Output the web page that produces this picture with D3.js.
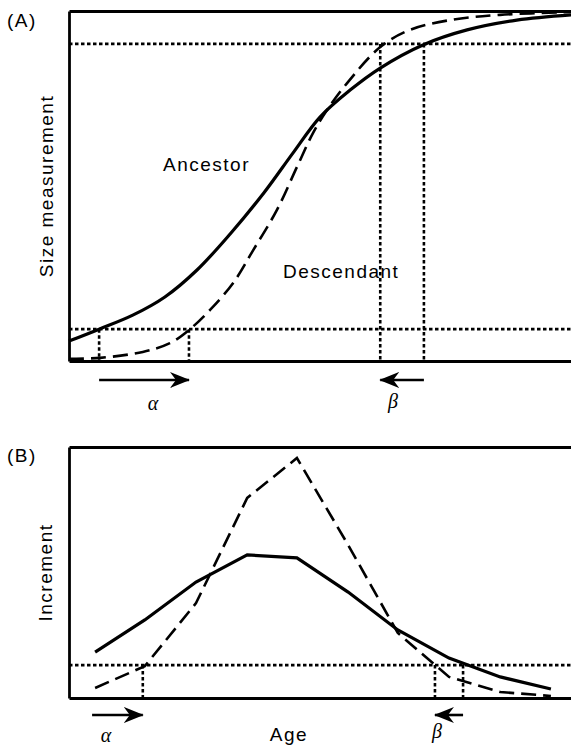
<!DOCTYPE html>
<html>
<head>
<meta charset="utf-8">
<script src="https://cdn.jsdelivr.net/npm/d3@7"></script>
<style>
  body { margin: 0; background: #fff; }
  svg { display: block; }
  .lab { font-family: "Liberation Sans", Arial, sans-serif; font-size: 19px; letter-spacing: 1.5px; fill: #000; }
  .greek { font-family: "Liberation Serif", "Times New Roman", serif; font-style: italic; font-size: 20px; fill: #000; }
</style>
</head>
<body>
<div id="chart"></div>
<script>
// ---- panel A : growth curves (age 0-10, size 0-100) ----
var ancestorAgeA  = [0, 0.60, 1.27, 1.91, 2.55, 3.21, 3.88, 4.46, 5.00, 5.60, 6.20, 7.05, 7.93, 8.92, 10.0];
var ancestorSizeA = [5.7, 9.1, 13.1, 18.3, 26.0, 36.3, 48.0, 59.4, 69.7, 77.4, 83.7, 90.3, 94.6, 97.4, 98.9];
var descAgeA      = [0, 0.62, 1.47, 2.01, 2.41, 2.81, 3.27, 3.67, 4.14, 4.54, 4.86, 5.14, 5.54, 6.20, 6.79, 7.59, 8.59, 10.0];
var descSizeA     = [0.6, 0.9, 2.6, 5.1, 9.1, 14.6, 22.3, 31.7, 43.1, 55.4, 65.1, 71.7, 79.4, 89.7, 94.6, 97.4, 98.9, 99.7];
var sizeThresholds = [9.1, 90.6];
var alphaAgesA = [0.60, 2.39];   // ancestor, descendant reach lower size
var betaAgesA  = [7.07, 6.20];   // ancestor, descendant reach upper size

// ---- panel B : increments ----
var ageB          = [0.52, 1.51, 2.53, 3.55, 4.54, 5.56, 6.55, 7.57, 8.59, 9.60];
var ancestorIncB  = [18.3, 31.1, 46.2, 57.0, 55.8, 42.2, 27.1, 15.9, 8.4, 3.6];
var descIncB      = [4.0, 12.7, 37.8, 79.7, 95.6, 61.0, 25.9, 8.4, 2.4, 0.8];
var incThreshold = 13.1;
var alphaAgesB = [0.46, 1.47];
var betaAgesB  = [7.85, 7.29];

var chart_width = 571;
var chart_height = 748;

var svg = d3.select('#chart')
  .append('svg')
  .attr('width', chart_width)
  .attr('height', chart_height);

// arrowhead
svg.append('defs').append('marker')
  .attr('id', 'head')
  .attr('viewBox', '0 0 20 16')
  .attr('refX', 19).attr('refY', 8)
  .attr('markerWidth', 20).attr('markerHeight', 16)
  .attr('markerUnits', 'userSpaceOnUse')
  .attr('orient', 'auto')
  .append('path')
  .attr('d', 'M0,0 L20,8 L0,16 L6,8 Z')
  .attr('fill', '#000');

var x_scale = d3.scaleLinear().domain([0, 10]).range([69, 571]);
var yA = d3.scaleLinear().domain([0, 100]).range([361, 11]);
var yB = d3.scaleLinear().domain([0, 100]).range([698, 447]);

function frame(y, top, bottom) {
  var axes = [
    [d3.axisBottom(x_scale), bottom, 0],
    [d3.axisTop(x_scale), top, 0],
    [d3.axisLeft(y), 0, x_scale(0)]
  ];
  axes.forEach(function(a){
    var g = svg.append('g')
      .attr('transform', 'translate(' + a[2] + ',' + a[1] + ')')
      .call(a[0].ticks(0).tickSize(0).tickSizeOuter(0));
    g.selectAll('text').remove();
    g.select('.domain').attr('stroke-width', 2.8).attr('stroke', '#000');
  });
}

function dotted(x1, y1, x2, y2) {
  svg.append('line')
    .attr('x1', x1).attr('y1', y1).attr('x2', x2).attr('y2', y2)
    .attr('stroke', '#000')
    .attr('stroke-width', 2.6)
    .attr('stroke-dasharray', '3.5,2.5');
}

function curve(ages, vals, y, dashed, shape) {
  var pts = ages.map(function(a, i){ return [a, vals[i]]; });
  var line = d3.line()
    .x(function(d){ return x_scale(d[0]); })
    .y(function(d){ return y(d[1]); })
    .curve(shape);
  svg.append('path')
    .attr('d', line(pts))
    .attr('fill', 'none')
    .attr('stroke', '#000')
    .attr('stroke-width', dashed ? 2.6 : 3.2)
    .attr('stroke-dasharray', dashed ? '15,7' : null);
}

function arrow(ages, y) {
  svg.append('line')
    .attr('x1', x_scale(ages[0])).attr('y1', y)
    .attr('x2', x_scale(ages[1])).attr('y2', y)
    .attr('stroke', '#000')
    .attr('stroke-width', 2.6)
    .attr('marker-end', 'url(#head)');
}

// ===== panel A =====
frame(yA, 11, 361);
dotted(x_scale(0), yA(sizeThresholds[0]), 571, yA(sizeThresholds[0]));
dotted(x_scale(0), yA(sizeThresholds[1]), 571, yA(sizeThresholds[1]));
alphaAgesA.forEach(function(a){ dotted(x_scale(a), yA(sizeThresholds[0]), x_scale(a), yA(0)); });
betaAgesA.forEach(function(a){ dotted(x_scale(a), yA(sizeThresholds[1]), x_scale(a), yA(0)); });
curve(ancestorAgeA, ancestorSizeA, yA, false, d3.curveCatmullRom.alpha(0.5));
curve(descAgeA, descSizeA, yA, true, d3.curveCatmullRom.alpha(0.5));
arrow(alphaAgesA, 380);
arrow(betaAgesA, 380);

svg.append('text').attr('class', 'lab').attr('x', 7).attr('y', 27).text('(A)');
svg.append('text').attr('class', 'lab').attr('x', 163).attr('y', 171).text('Ancestor');
svg.append('text').attr('class', 'lab').attr('x', 283).attr('y', 278).text('Descendant');
svg.append('text').attr('class', 'lab')
  .attr('transform', 'translate(53,' + yA(50) + ') rotate(-90)')
  .attr('text-anchor', 'middle')
  .text('Size measurement');
svg.append('text').attr('class', 'greek').attr('x', 153).attr('y', 410).attr('text-anchor', 'middle').text('α');
svg.append('text').attr('class', 'greek').attr('x', 393).attr('y', 408).attr('text-anchor', 'middle').text('β');

// ===== panel B =====
frame(yB, 447, 698);
dotted(x_scale(0), yB(incThreshold), 571, yB(incThreshold));
[alphaAgesB[1], betaAgesB[0], betaAgesB[1]].forEach(function(a){
  dotted(x_scale(a), yB(incThreshold), x_scale(a), yB(0));
});
curve(ageB, ancestorIncB, yB, false, d3.curveLinear);
curve(ageB, descIncB, yB, true, d3.curveLinear);
arrow(alphaAgesB, 715);
arrow(betaAgesB, 715);

svg.append('text').attr('class', 'lab').attr('x', 7).attr('y', 462).text('(B)');
svg.append('text').attr('class', 'lab')
  .attr('transform', 'translate(52,' + yB(50) + ') rotate(-90)')
  .attr('text-anchor', 'middle')
  .text('Increment');
svg.append('text').attr('class', 'lab').attr('x', 289).attr('y', 741).attr('text-anchor', 'middle').text('Age');
svg.append('text').attr('class', 'greek').attr('x', 106).attr('y', 742).attr('text-anchor', 'middle').text('α');
svg.append('text').attr('class', 'greek').attr('x', 437).attr('y', 738).attr('text-anchor', 'middle').text('β');
</script>
</body>
</html>
